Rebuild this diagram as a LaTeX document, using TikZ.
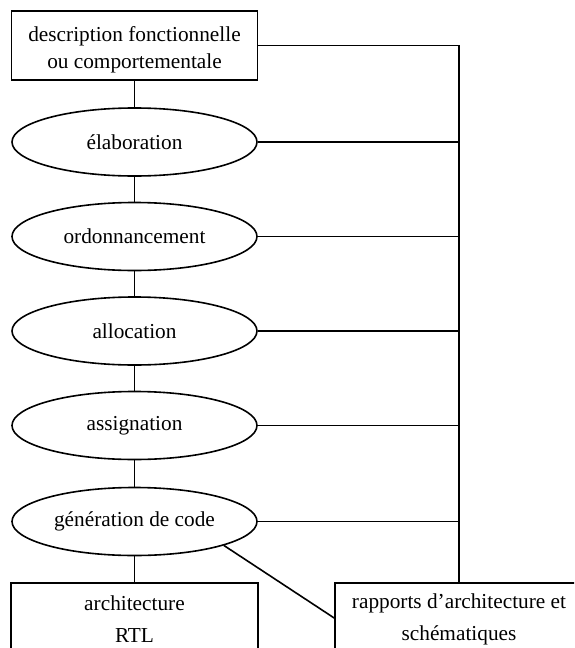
\documentclass[tikz,border=0pt]{standalone}
\usepackage{fontspec}
\setmainfont{Liberation Serif}
\usetikzlibrary{shapes.geometric}
\begin{document}
\begin{tikzpicture}[x=1pt,y=-1pt,
  lbl/.style={font=\fontsize{21.3}{26.7}\selectfont, align=center, inner sep=0pt},
  lblwide/.style={font=\fontsize{21.3}{32}\selectfont, align=center, inner sep=0pt},
  box/.style={draw, rectangle, inner sep=0pt, line width=1.6pt},
  stage/.style={draw, ellipse, minimum width=245pt, minimum height=68pt, inner sep=0pt,
    line width=1.6pt, font=\fontsize{21.3}{26}\selectfont},
  link/.style={line width=1.6pt}]
\useasboundingbox (0,0) rectangle (574,648);
\clip (0,0) rectangle (574,648);

% input description
\node[box, minimum width=246pt, minimum height=69pt] (desc) at (134.5,45.5) {};
\node[lbl] (desctxt) at (134.5,50) {description fonctionnelle\\ou comportementale};

% synthesis steps
\node[stage] (e1) at (134.5,142) {élaboration};
\node[stage] (e2) at (134.5,236.5) {ordonnancement};
\node[stage] (e3) at (134.5,331) {allocation};
\node[stage] (e4) at (134.5,425.5) {assignation};
\node[stage] (e5) at (134.5,521.5) {génération de code};

% outputs
\node[box, minimum width=247pt, minimum height=70pt] (arch) at (134.5,618) {};
\node[lblwide] (archtxt) at (134.5,619.5) {architecture\\RTL};
\node[box, minimum width=248pt, minimum height=70pt] (rap) at (459,618) {};
\node[lblwide] (raptxt) at (459,619.5) {rapports d’architecture et\\schématiques};

% main flow
\draw[link] (desc.south) -- (e1.north);
\draw[link] (e1.south) -- (e2.north);
\draw[link] (e2.south) -- (e3.north);
\draw[link] (e3.south) -- (e4.north);
\draw[link] (e4.south) -- (e5.north);
\draw[link] (e5.south) -- (arch.north);

% report bus
\draw[link] (desc.east) -- (desc.east -| rap.north) -- (rap.north);
\foreach \n in {e1,e2,e3,e4,e5}
  \draw[link] (\n.east) -- (\n.east -| rap.north);
\draw[link] (e5.-15) -- (rap.west);
\end{tikzpicture}
\end{document}
